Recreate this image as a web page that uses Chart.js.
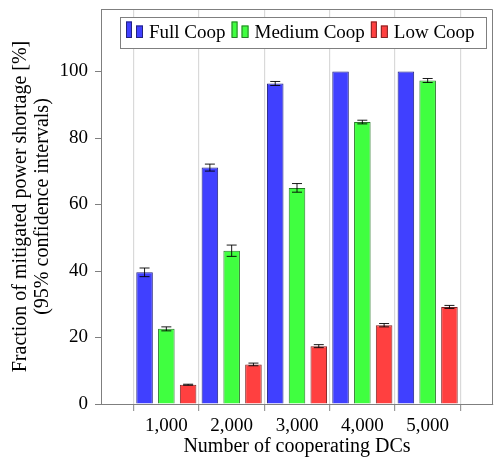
<!DOCTYPE html>
<html>
<head>
<meta charset="utf-8">
<script src="https://cdn.jsdelivr.net/npm/chart.js@4.4.1/dist/chart.umd.min.js"></script>
<style>
  html, body { margin: 0; padding: 0; background: #fff; }
  canvas { display: block; }
</style>
</head>
<body>
<canvas id="chart" width="494" height="457"></canvas>
<script>
const categories = ['1,000', '2,000', '3,000', '4,000', '5,000'];

const fullCoop = [39.6, 71.1, 96.4, 100, 100];
const fullCoopErr = [1.3, 1.05, 0.6, 0, 0];

const mediumCoop = [22.6, 46.1, 65.0, 84.8, 97.3];
const mediumCoopErr = [0.6, 1.7, 1.3, 0.55, 0.6];

const lowCoop = [5.8, 11.9, 17.4, 23.7, 29.2];
const lowCoopErr = [0.15, 0.4, 0.45, 0.5, 0.45];

const yMax = 118.8;
const yStep = 20;

const serif = "'Liberation Serif', 'Times New Roman', serif";

// empty slots on both sides so the groups sit like the pgfplots axis
function padded(values) {
    return [null, ...values, null];
}

const errorBars = {
    id: 'errorBars',
    afterDatasetsDraw(chart) {
        const ctx = chart.ctx;
        const yScale = chart.scales.y;
        ctx.save();
        ctx.strokeStyle = '#000';
        ctx.lineWidth = 0.9;
        chart.data.datasets.forEach((ds, i) => {
            const meta = chart.getDatasetMeta(i);
            meta.data.forEach((bar, j) => {
                const v = ds.data[j];
                const e = ds.errors[j];
                if (v == null || !e) return;
                const top = yScale.getPixelForValue(v + e);
                const bottom = yScale.getPixelForValue(v - e);
                ctx.beginPath();
                ctx.moveTo(bar.x, top);
                ctx.lineTo(bar.x, bottom);
                ctx.moveTo(bar.x - 5, top);
                ctx.lineTo(bar.x + 5, top);
                ctx.moveTo(bar.x - 5, bottom);
                ctx.lineTo(bar.x + 5, bottom);
                ctx.stroke();
            });
        });
        ctx.restore();
    }
};

const boxLegend = {
    id: 'boxLegend',
    afterDraw(chart) {
        const ctx = chart.ctx;
        const area = chart.chartArea;
        ctx.save();
        ctx.font = '19px ' + serif;
        const left = area.left + 19;
        const top = area.top + 8;
        const height = 31;
        const items = chart.data.datasets.map(ds => ({ ds: ds, w: ctx.measureText(ds.label).width }));
        let width = 6 + 11 + 6 * (items.length - 1);
        items.forEach(it => { width += 18 + 5 + it.w; });

        ctx.fillStyle = '#fff';
        ctx.fillRect(left, top, width, height);
        ctx.strokeStyle = '#7f7f7f';
        ctx.lineWidth = 1;
        ctx.strokeRect(Math.round(left) + 0.5, Math.round(top) + 0.5, Math.round(width), height);

        let x = left + 6;
        const base = top + 20.5;
        items.forEach(it => {
            ctx.fillStyle = it.ds.backgroundColor;
            ctx.strokeStyle = it.ds.borderColor;
            ctx.lineWidth = 1;
            ctx.fillRect(x, base - 16, 6, 16);
            ctx.strokeRect(x + 0.5, base - 16 + 0.5, 5, 15.5);
            ctx.fillRect(x + 10, base - 12, 7, 12);
            ctx.strokeRect(x + 10.5, base - 12 + 0.5, 6, 11.5);
            x += 18 + 5;
            ctx.fillStyle = '#000';
            ctx.textBaseline = 'alphabetic';
            ctx.fillText(it.ds.label, x, base);
            x += it.w + 6;
        });
        ctx.restore();
    }
};

const frame = {
    id: 'frame',
    afterDraw(chart) {
        const ctx = chart.ctx;
        const a = chart.chartArea;
        ctx.save();
        ctx.strokeStyle = '#7f7f7f';
        ctx.lineWidth = 1;
        ctx.beginPath();
        ctx.moveTo(a.left, Math.round(a.top) + 0.5);
        ctx.lineTo(Math.round(a.right) - 0.5, Math.round(a.top) + 0.5);
        ctx.lineTo(Math.round(a.right) - 0.5, a.bottom);
        ctx.stroke();
        ctx.restore();
    }
};

new Chart(document.getElementById('chart'), {
    type: 'bar',
    data: {
        labels: ['', ...categories, ''],
        datasets: [
            {
                label: 'Full Coop',
                data: padded(fullCoop),
                errors: padded(fullCoopErr),
                backgroundColor: '#4040ff',
                borderColor: '#23237f'
            },
            {
                label: 'Medium Coop',
                data: padded(mediumCoop),
                errors: padded(mediumCoopErr),
                backgroundColor: '#40ff40',
                borderColor: '#2a7a2a'
            },
            {
                label: 'Low Coop',
                data: padded(lowCoop),
                errors: padded(lowCoopErr),
                backgroundColor: '#ff4040',
                borderColor: '#7f2323'
            }
        ]
    },
    options: {
        responsive: false,
        animation: false,
        devicePixelRatio: 1,
        layout: { padding: { top: 9, right: 1, left: 0, bottom: 0 } },
        datasets: {
            bar: {
                categoryPercentage: 1.0,
                barPercentage: 0.76,
                borderWidth: 1
            }
        },
        plugins: {
            legend: { display: false },
            tooltip: { enabled: false }
        },
        scales: {
            x: {
                offset: false,
                grid: {
                    offset: true,
                    color: '#d9d9d9',
                    lineWidth: 1.2,
                    tickLength: 7,
                    tickColor: '#9a9a9a'
                },
                border: { color: '#7f7f7f' },
                ticks: {
                    autoSkip: false,
                    maxRotation: 0,
                    color: '#000',
                    font: { family: serif, size: 19 },
                    padding: 4
                },
                title: {
                    display: true,
                    text: 'Number of cooperating DCs',
                    color: '#000',
                    font: { family: serif, size: 20, lineHeight: 1 },
                    padding: 0
                },
                afterFit(scale) {
                    scale.height = 53;
                    scale.paddingLeft = 0;
                    scale.paddingRight = 0;
                }
            },
            y: {
                min: 0,
                max: yMax,
                grid: {
                    drawOnChartArea: false,
                    tickLength: 6,
                    tickColor: '#7f7f7f'
                },
                border: { color: '#7f7f7f' },
                ticks: {
                    stepSize: yStep,
                    includeBounds: false,
                    color: '#000',
                    font: { family: serif, size: 19 },
                    padding: 7
                },
                title: {
                    display: true,
                    text: ['Fraction of mitigated power shortage [%]', '(95% confidence intervals)'],
                    color: '#000',
                    font: { family: serif, size: 20, lineHeight: 1.1 },
                    padding: { top: 10, bottom: 0 }
                },
                afterFit(scale) {
                    scale.width = 101;
                    scale.paddingTop = 0;
                    scale.paddingBottom = 0;
                }
            }
        }
    },
    plugins: [errorBars, boxLegend, frame]
});
</script>
</body>
</html>
